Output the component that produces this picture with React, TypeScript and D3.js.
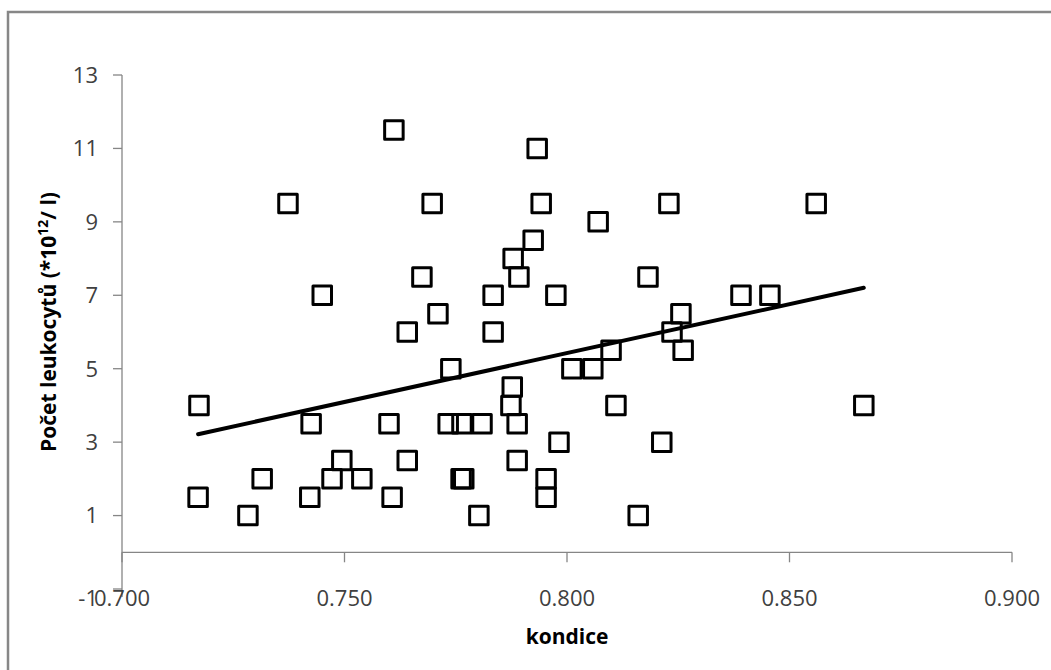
import * as d3 from 'd3';

// kondice (x) vs. počet leukocytů (y)
const KONDICE = [
  0.7173, 0.7171, 0.7283, 0.7315, 0.7373, 0.7425, 0.7422, 0.745, 0.7472, 0.7494,
  0.7539, 0.76, 0.7607, 0.7611, 0.7641, 0.7641, 0.7674, 0.7697, 0.771, 0.7739,
  0.7733, 0.7764, 0.7762, 0.7768, 0.7809, 0.7802, 0.7834, 0.7834, 0.7879, 0.7892,
  0.7877, 0.7874, 0.7888, 0.7888, 0.7924, 0.7933, 0.7942, 0.7953, 0.7953, 0.7975,
  0.7982, 0.8011, 0.8058, 0.807, 0.8099, 0.811, 0.816, 0.8182, 0.8213, 0.8229,
  0.8236, 0.8256, 0.8261, 0.8391, 0.8456, 0.856, 0.8667,
];
const LEUKOCYTY = [
  4, 1.5, 1, 2, 9.5, 3.5, 1.5, 7, 2, 2.5,
  2, 3.5, 1.5, 11.5, 6, 2.5, 7.5, 9.5, 6.5, 5,
  3.5, 3.5, 2, 2, 3.5, 1, 6, 7, 8, 7.5,
  4.5, 4, 3.5, 2.5, 8.5, 11, 9.5, 2, 1.5, 7,
  3, 5, 5, 9, 5.5, 4, 1, 7.5, 3, 9.5,
  6, 6.5, 5.5, 7, 7, 9.5, 4,
];
const X_TICKS = [0.7, 0.75, 0.8, 0.85, 0.9];
const Y_TICKS = [-1, 1, 3, 5, 7, 9, 11, 13];

const W = 1051, H = 670;
const plot = { left: 122, right: 1012, top: 75, bottom: 589 };
const FONT = '"Open Sans", sans-serif';
const AXIS = '#868686';
const TEXT = '#404040';
const X_LABEL_Y = 598;

export default function App() {
  const x = d3.scaleLinear().domain([0.7, 0.9]).range([plot.left, plot.right]);
  const y = d3.scaleLinear().domain([-1, 13]).range([plot.bottom, plot.top]);

  const pts = KONDICE.map((k, i) => [k, LEUKOCYTY[i]] as [number, number]);

  // least squares trend line
  const mx = d3.mean(KONDICE)!, my = d3.mean(LEUKOCYTY)!;
  const sxy = d3.sum(pts, p => (p[0] - mx) * (p[1] - my));
  const sxx = d3.sum(KONDICE, k => (k - mx) ** 2);
  const slope = sxy / sxx;
  const [x0, x1] = d3.extent(KONDICE) as [number, number];
  const trend = d3.line<number>().x(v => x(v)).y(v => y(my + slope * (v - mx)));

  const s = 18.5;
  const fmtX = d3.format('.3f');

  return (
    <svg width={W} height={H} style={{ position: 'absolute', left: 0, top: 0, background: '#fff' }}>
      <rect x={8} y={12} width={W + 20} height={H + 20} fill="#fff" stroke="#878787" strokeWidth={2.5} />

      {/* y axis */}
      <line x1={plot.left} x2={plot.left} y1={y(13)} y2={y(-1) + 8} stroke={AXIS} strokeWidth={1.3} />
      {Y_TICKS.map(t => (
        <g key={t}>
          <line x1={plot.left - 9} x2={plot.left} y1={y(t)} y2={y(t)} stroke={AXIS} strokeWidth={1.3} />
          {/* the lowest label sits on the x label row, as in the original */}
          <text x={98} y={t === -1 ? X_LABEL_Y : y(t)} dy="0.36em" textAnchor="end" fontFamily={FONT} fontSize={22} fill={TEXT}>
            {t}
          </text>
        </g>
      ))}

      {/* x axis crossing at 0 */}
      <line x1={x(0.7)} x2={x(0.9)} y1={y(0)} y2={y(0)} stroke={AXIS} strokeWidth={1.3} />
      {X_TICKS.map(t => (
        <g key={t}>
          <line x1={x(t)} x2={x(t)} y1={y(0)} y2={y(0) + 10} stroke={AXIS} strokeWidth={1.3} />
          <text x={x(t)} y={X_LABEL_Y} dy="0.36em" textAnchor="middle" fontFamily={FONT} fontSize={22} fill={TEXT}>
            {fmtX(t)}
          </text>
        </g>
      ))}

      {/* markers */}
      {pts.map((p, i) => (
        <rect key={i} x={x(p[0]) - s / 2} y={y(p[1]) - s / 2} width={s} height={s}
          fill="none" stroke="#000" strokeWidth={3} strokeLinejoin="round" />
      ))}

      <path d={trend([x0, x1]) ?? ''} fill="none" stroke="#000" strokeWidth={4} strokeLinecap="round" />

      {/* titles */}
      <text x={567} y={636} dy="0.36em" textAnchor="middle" fontFamily={FONT} fontSize={21} fontWeight="bold" fill="#000">
        kondice
      </text>
      <text transform="translate(48,322) rotate(-90)" dy="0.36em" textAnchor="middle" fontFamily={FONT}
        fontSize={21} fontWeight="bold" fill="#000">
        Počet leukocytů (*10<tspan fontSize={14} dy="-8">12</tspan><tspan dy="8">/ l)</tspan>
      </text>
    </svg>
  );
}
